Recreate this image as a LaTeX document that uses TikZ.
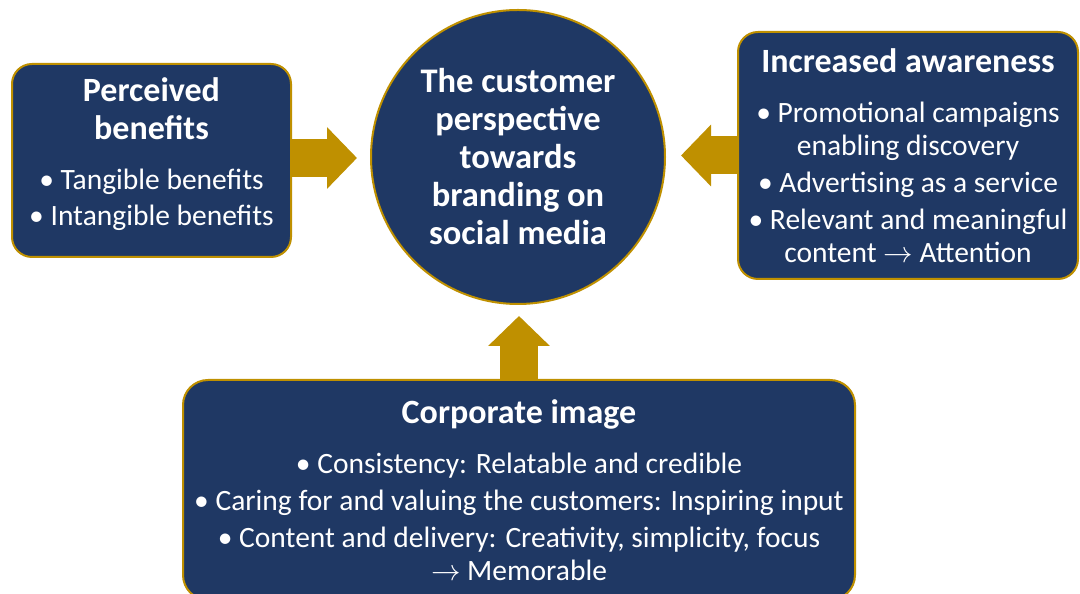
\documentclass[tikz,border=0pt]{standalone}
\usepackage{fontspec}
\setmainfont{Carlito}
\usetikzlibrary{arrows.meta}

% let the math arrows scale with the large text
\DeclareFontShape{OMS}{cmsy}{m}{n}{<-6>cmsy5<6-7>cmsy6<7-8>cmsy7<8-9>cmsy8<9-10>cmsy9<10->cmsy10}{}

\definecolor{navy}{HTML}{1F3864}
\definecolor{gold}{HTML}{BF9000}

\newcommand{\heading}{\fontsize{34}{38}\selectfont\bfseries}
\newcommand{\bodytext}{\fontsize{29.5}{33}\selectfont}

\tikzset{
  panel/.style={draw=gold, line width=2pt, fill=navy, text=white,
    rounded corners=20pt, align=center, inner sep=0pt, font=\bodytext},
  hub/.style={circle, draw=gold, line width=2pt, fill=navy, text=white,
    align=center, inner sep=0pt, font=\fontsize{34.5}{38}\selectfont\bfseries},
  bigarrow/.style={draw=gold, line width=38pt,
    -{Triangle[length=30pt,width=60pt]}},
}

\begin{document}
\begin{tikzpicture}[x=1pt,y=1pt]
  \useasboundingbox (0,0) rectangle (1080,594);

  \node [hub, minimum size=294pt] (customer) at (518,437)
    {The customer\\perspective\\towards\\branding on\\social media};

  \node [panel, minimum width=279pt, minimum height=193pt, text depth=17pt] (benefits) at (151.5,433.5)
    {{\heading Perceived}\\[5pt]
     {\heading benefits}\\[17pt]
     \textbullet{} Tangible benefits\\[3pt]
     \textbullet{} Intangible benefits};

  \node [panel, minimum width=340pt, minimum height=247pt] (awareness) at (908,438.5)
    {{\heading Increased awareness}\\[17pt]
     \textbullet{} Promotional campaigns\\
     enabling discovery\\[4pt]
     \textbullet{} Advertising as a service\\[4pt]
     \textbullet{} Relevant and meaningful\\
     content $\rightarrow$ Attention};

  \node [panel, rounded corners=25pt, minimum width=672pt, minimum height=220pt] (image) at (519,104)
    {{\heading Corporate image}\\[17pt]
     \textbullet{} Consistency: Relatable and credible\\[4pt]
     \textbullet{} Caring for and valuing the customers: Inspiring input\\[4pt]
     \textbullet{} Content and delivery: Creativity, simplicity, focus\\
     $\rightarrow$ Memorable};

  % block arrows into the hub
  \draw [bigarrow, shorten >=13pt] ([yshift=2.5pt]benefits.east) -- ([yshift=2.5pt]benefits.east -| customer.west);
  \draw [bigarrow, shorten >=15pt] (awareness.west) -- (awareness.west -| customer.east);
  \draw [bigarrow, shorten >=11pt] (image.north) -- (image.north |- customer.south);
\end{tikzpicture}
\end{document}
